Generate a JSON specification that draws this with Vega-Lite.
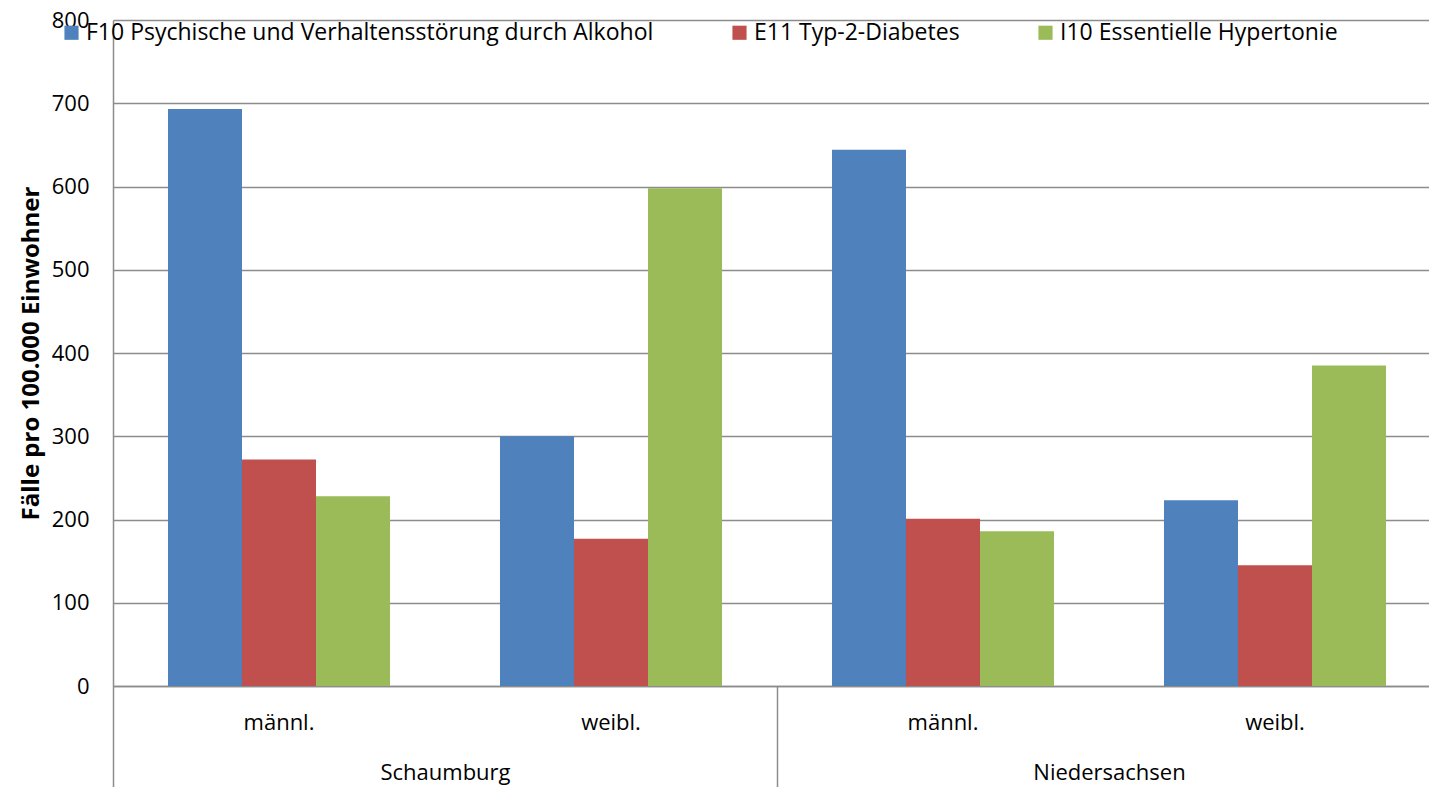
{
  "$schema": "https://vega.github.io/schema/vega-lite/v6.json",
  "autosize": "none",
  "width": 1328,
  "height": 666,
  "padding": {"left": 113, "top": 20, "right": 0, "bottom": 101},
  "background": "white",
  "config": {
    "font": "Open Sans",
    "view": {"stroke": null}
  },
  "data": {
    "values": [
      {"gruppe": "Schaumburg|männl.", "region": "Schaumburg", "diagnose": "F10 Psychische und Verhaltensstörung durch Alkohol", "wert": 693},
      {"gruppe": "Schaumburg|männl.", "region": "Schaumburg", "diagnose": "E11 Typ-2-Diabetes", "wert": 272},
      {"gruppe": "Schaumburg|männl.", "region": "Schaumburg", "diagnose": "I10 Essentielle Hypertonie", "wert": 228},
      {"gruppe": "Schaumburg|weibl.", "region": "Schaumburg", "diagnose": "F10 Psychische und Verhaltensstörung durch Alkohol", "wert": 300},
      {"gruppe": "Schaumburg|weibl.", "region": "Schaumburg", "diagnose": "E11 Typ-2-Diabetes", "wert": 177},
      {"gruppe": "Schaumburg|weibl.", "region": "Schaumburg", "diagnose": "I10 Essentielle Hypertonie", "wert": 598},
      {"gruppe": "Niedersachsen|männl.", "region": "Niedersachsen", "diagnose": "F10 Psychische und Verhaltensstörung durch Alkohol", "wert": 644},
      {"gruppe": "Niedersachsen|männl.", "region": "Niedersachsen", "diagnose": "E11 Typ-2-Diabetes", "wert": 201},
      {"gruppe": "Niedersachsen|männl.", "region": "Niedersachsen", "diagnose": "I10 Essentielle Hypertonie", "wert": 186},
      {"gruppe": "Niedersachsen|weibl.", "region": "Niedersachsen", "diagnose": "F10 Psychische und Verhaltensstörung durch Alkohol", "wert": 223},
      {"gruppe": "Niedersachsen|weibl.", "region": "Niedersachsen", "diagnose": "E11 Typ-2-Diabetes", "wert": 145},
      {"gruppe": "Niedersachsen|weibl.", "region": "Niedersachsen", "diagnose": "I10 Essentielle Hypertonie", "wert": 385}
    ]
  },
  "layer": [
    {
      "mark": {"type": "bar"},
      "encoding": {
        "x": {
          "field": "gruppe",
          "type": "nominal",
          "sort": ["Schaumburg|männl.", "Schaumburg|weibl.", "Niedersachsen|männl.", "Niedersachsen|weibl."],
          "scale": {"paddingInner": 0, "paddingOuter": 0},
          "axis": {
            "orient": "bottom",
            "title": null,
            "labelExpr": "split(datum.value, '|')[1]",
            "labelAngle": 0,
            "labelFontSize": 22,
            "labelColor": "#000000",
            "labelPadding": 26,
            "ticks": false,
            "domain": true,
            "domainColor": "#8c8c8c",
            "domainWidth": 1.5,
            "grid": false
          }
        },
        "xOffset": {
          "field": "diagnose",
          "type": "nominal",
          "scale": {
            "domain": ["F10 Psychische und Verhaltensstörung durch Alkohol", "E11 Typ-2-Diabetes", "I10 Essentielle Hypertonie"],
            "paddingInner": 0,
            "paddingOuter": 0.743
          }
        },
        "y": {
          "field": "wert",
          "type": "quantitative",
          "scale": {"domain": [0, 800], "nice": false},
          "axis": {
            "title": "Fälle pro 100.000 Einwohner",
            "titleFontSize": 24,
            "titleFontWeight": "bold",
            "titleColor": "#000000",
            "titlePadding": 8,
            "values": [0, 100, 200, 300, 400, 500, 600, 700, 800],
            "labelFontSize": 22,
            "labelColor": "#000000",
            "labelPadding": 24,
            "ticks": false,
            "domain": true,
            "domainColor": "#8c8c8c",
            "domainWidth": 1.5,
            "grid": true,
            "gridColor": "#8c8c8c",
            "gridWidth": 1.5
          }
        },
        "color": {
          "field": "diagnose",
          "type": "nominal",
          "scale": {
            "domain": ["F10 Psychische und Verhaltensstörung durch Alkohol", "E11 Typ-2-Diabetes", "I10 Essentielle Hypertonie"],
            "range": ["#4F81BD", "#C0504D", "#9BBB59"]
          },
          "legend": {
            "title": null,
            "orient": "none",
            "direction": "horizontal",
            "legendX": -53,
            "legendY": 1,
            "symbolType": "square",
            "symbolSize": 200,
            "symbolStrokeWidth": 0,
            "labelFontSize": 23,
            "labelColor": "#000000",
            "labelOffset": 3,
            "labelLimit": 800,
            "columnPadding": 74
          }
        }
      }
    },
    {
      "mark": {"type": "point", "opacity": 0},
      "encoding": {
        "x": {
          "field": "region",
          "type": "nominal",
          "sort": ["Schaumburg", "Niedersachsen"],
          "scale": {"paddingInner": 0, "paddingOuter": 0},
          "axis": {
            "orient": "bottom",
            "title": null,
            "labelAngle": 0,
            "labelFontSize": 22,
            "labelColor": "#000000",
            "ticks": true,
            "tickBand": "extent",
            "tickSize": 101,
            "tickColor": "#8c8c8c",
            "tickWidth": 1.5,
            "labelPadding": -25,
            "domain": false,
            "grid": false
          }
        },
        "y": {"field": "wert", "type": "quantitative"}
      }
    }
  ],
  "resolve": {"scale": {"x": "independent"}, "axis": {"x": "independent"}}
}
